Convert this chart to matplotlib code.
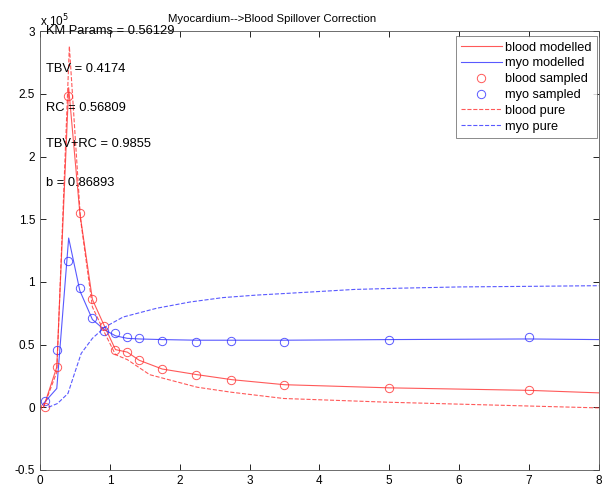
import matplotlib
matplotlib.use('Agg')
import matplotlib.pyplot as plt

plt.rcParams['font.family'] = ['Liberation Sans', 'DejaVu Sans']

# sampled frame mid-times (min) and values (x 10^5)
t_sample = [0.07, 0.24, 0.40, 0.57, 0.75, 0.92, 1.08, 1.24, 1.41, 1.75,
            2.24, 2.74, 3.49, 5.0, 7.0]
blood_sampled = [0.0, 0.32, 2.48, 1.55, 0.86, 0.65, 0.455, 0.44, 0.375, 0.305,
                 0.26, 0.215, 0.18, 0.155, 0.135]
myo_sampled = [0.05, 0.46, 1.17, 0.95, 0.71, 0.61, 0.59, 0.56, 0.55, 0.53,
               0.52, 0.526, 0.524, 0.54, 0.56]

# model curves
t_model = [0.05, 0.24, 0.41, 0.57, 0.75, 0.92, 1.08, 1.25, 1.42, 1.75,
           2.25, 2.75, 3.5, 5.0, 7.0, 8.0]
blood_modelled = [0.0, 0.32, 2.55, 1.55, 0.86, 0.65, 0.46, 0.44, 0.375, 0.305,
                  0.26, 0.22, 0.18, 0.155, 0.135, 0.115]
myo_modelled = [0.03, 0.15, 1.35, 0.93, 0.70, 0.62, 0.57, 0.55, 0.545, 0.54,
                0.535, 0.535, 0.535, 0.54, 0.545, 0.54]

t_pure_blood = [0.05, 0.24, 0.42, 0.58, 0.75, 0.92, 1.08, 1.25, 1.57, 2.25,
                2.74, 3.49, 5.0, 7.0, 8.0]
blood_pure = [0.0, 0.28, 2.88, 1.5, 0.8, 0.6, 0.42, 0.38, 0.26, 0.16,
              0.12, 0.07, 0.04, 0.01, -0.005]
t_pure_myo = [0.12, 0.25, 0.4, 0.5, 0.59, 0.75, 0.93, 1.19, 1.67, 2.15,
              2.62, 3.1, 3.58, 4.5, 5.15, 6.0, 7.05, 8.0]
myo_pure = [0.0, 0.03, 0.11, 0.28, 0.43, 0.55, 0.64, 0.72, 0.79, 0.84,
            0.875, 0.895, 0.91, 0.94, 0.95, 0.96, 0.965, 0.97]

params = ['KM Params = 0.56129', 'TBV = 0.4174', 'RC = 0.56809',
          'TBV+RC = 0.9855', 'b = 0.86893']
param_y = [3.0, 2.7, 2.39, 2.1, 1.79]

fig = plt.figure(figsize=(6.11, 4.88), dpi=100)
ax = fig.add_axes([0.0655, 0.037, 0.9145, 0.899])

red = '#ff3030'
blue = '#3030ff'
ax.plot(t_model, blood_modelled, color=red, lw=0.8, alpha=0.8, label='blood modelled')
ax.plot(t_model, myo_modelled, color=blue, lw=0.8, alpha=0.8, label='myo modelled')
ax.plot(t_sample, blood_sampled, 'o', mfc='none', mec=red, ms=6, mew=0.7,
        alpha=0.8, label='blood sampled')
ax.plot(t_sample, myo_sampled, 'o', mfc='none', mec=blue, ms=6, mew=0.7,
        alpha=0.8, label='myo sampled')
ax.plot(t_pure_blood, blood_pure, '--', color=red, lw=0.8, alpha=0.8, label='blood pure')
ax.plot(t_pure_myo, myo_pure, '--', color=blue, lw=0.8, alpha=0.8, label='myo pure')

for s, y in zip(params, param_y):
    ax.text(0.08, y, s, fontsize=9.3, va='center', ha='left')

ax.set_xlim(0, 8)
ax.set_ylim(-0.5, 3)
ax.set_xticks(range(0, 9))
ax.set_yticks([-0.5, 0, 0.5, 1, 1.5, 2, 2.5, 3])
ax.set_yticklabels(['-0.5', '0', '0.5', '1', '1.5', '2', '2.5', '3'])
ax.tick_params(direction='in', top=True, right=True, labelsize=8.5, length=4, width=0.6)
for sp in ax.spines.values():
    sp.set_linewidth(0.6)
    sp.set_color('#555555')

ax.text(0.0, 1.005, r'x 10$^5$', transform=ax.transAxes, fontsize=8.5,
        ha='left', va='bottom')
ax.set_title('Myocardium-->Blood Spillover Correction', fontsize=8.2, pad=7,
             x=0.415)

leg = ax.legend(loc='upper right', bbox_to_anchor=(0.997, 0.988), fontsize=9.2,
                frameon=True, fancybox=False, edgecolor='#555555', borderpad=0.4,
                labelspacing=0.3, handlelength=3.2, handletextpad=0.3,
                borderaxespad=0.0)
leg.get_frame().set_linewidth(0.6)

fig.savefig('out.png', dpi=100)
